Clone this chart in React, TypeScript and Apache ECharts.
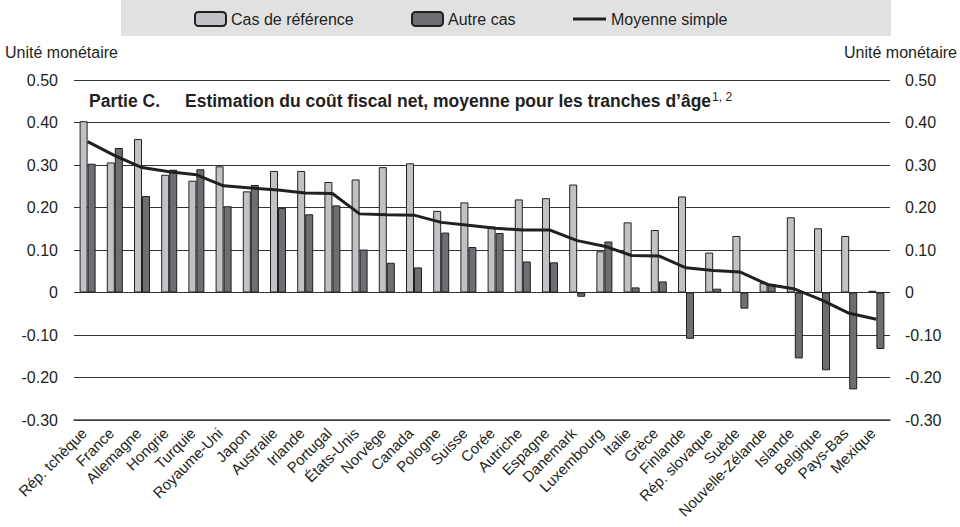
import React, { useEffect, useRef } from "react";
import * as echarts from "echarts";

const categories = [
  "Rép. tchèque", "France", "Allemagne", "Hongrie", "Turquie", "Royaume-Uni", "Japon",
  "Australie", "Irlande", "Portugal", "États-Unis", "Norvège", "Canada", "Pologne",
  "Suisse", "Corée", "Autriche", "Espagne", "Danemark", "Luxembourg", "Italie", "Grèce",
  "Finlande", "Rép. slovaque", "Suède", "Nouvelle-Zélande", "Islande", "Belgique",
  "Pays-Bas", "Mexique",
];

const referenceCase = [
  0.403, 0.306, 0.361, 0.277, 0.263, 0.297, 0.238, 0.286, 0.286, 0.26, 0.266, 0.295,
  0.304, 0.192, 0.212, 0.155, 0.219, 0.222, 0.254, 0.097, 0.165, 0.147, 0.226, 0.094,
  0.133, 0.022, 0.177, 0.151, 0.133, 0.004,
];

const otherCase = [
  0.303, 0.34, 0.227, 0.289, 0.29, 0.203, 0.253, 0.199, 0.184, 0.205, 0.101, 0.07,
  0.059, 0.141, 0.107, 0.14, 0.073, 0.071, -0.01, 0.12, 0.012, 0.026, -0.109, 0.009,
  -0.038, 0.02, -0.155, -0.183, -0.228, -0.133,
];

const simpleAverage = [
  0.355, 0.322, 0.294, 0.284, 0.277, 0.251, 0.246, 0.241, 0.234, 0.233, 0.185, 0.183,
  0.182, 0.165, 0.158, 0.151, 0.147, 0.147, 0.122, 0.109, 0.087, 0.086, 0.058, 0.052,
  0.048, 0.019, 0.008, -0.018, -0.049, -0.063,
];

const seriesNames = ["Cas de référence", "Autre cas", "Moyenne simple"];
const yMin = -0.3;
const yMax = 0.5;
const yStep = 0.1;
const unitLabel = "Unité monétaire";
const titlePart = "Partie C.";
const titleText = "Estimation du coût fiscal net, moyenne pour les tranches d’âge";
const titleNotes = "1, 2";

const FONT = "'Liberation Sans', Arial, Helvetica, sans-serif";
const TEXT = "#231f20";

const fmt = (v: number) => (Math.abs(v) < 1e-9 ? "0" : v.toFixed(2));

export default function App() {
  const ref = useRef<HTMLDivElement>(null);

  useEffect(() => {
    if (!ref.current) return;
    const chart = echarts.init(ref.current, undefined, { renderer: "svg" });
    const legendText = { fontFamily: FONT, fontSize: 16, color: TEXT };
    const axisLabelCommon = {
      fontFamily: FONT,
      fontSize: 16,
      color: TEXT,
      formatter: fmt,
      padding: [0, 0, 7, 0],
    };
    chart.setOption({
      animation: false,
      backgroundColor: "#ffffff",
      textStyle: { fontFamily: FONT },
      grid: { left: 74, right: 70, top: 80, bottom: 107, containLabel: false },
      legend: [
        {
          data: [seriesNames[0]],
          left: 194,
          top: 11,
          padding: 0,
          itemWidth: 31,
          itemHeight: 14,
          textStyle: legendText,
        },
        {
          data: [seriesNames[1]],
          left: 411,
          top: 11,
          padding: 0,
          itemWidth: 31,
          itemHeight: 14,
          textStyle: legendText,
        },
        {
          data: [{ name: seriesNames[2], icon: "rect" }],
          left: 573,
          top: 11,
          padding: 0,
          itemWidth: 33,
          itemHeight: 3,
          textStyle: legendText,
        },
      ],
      graphic: [
        {
          type: "rect",
          z: -10,
          shape: { x: 121, y: 0, width: 770, height: 36 },
          style: { fill: "#e1e1e2" },
          silent: true,
        },
        {
          type: "text",
          x: 5,
          y: 52,
          style: {
            text: unitLabel,
            font: `16px ${FONT}`,
            fill: TEXT,
            textAlign: "left",
            textVerticalAlign: "middle",
          },
        },
        {
          type: "text",
          x: 957,
          y: 52,
          style: {
            text: unitLabel,
            font: `16px ${FONT}`,
            fill: TEXT,
            textAlign: "right",
            textVerticalAlign: "middle",
          },
        },
        {
          type: "text",
          x: 89,
          y: 101,
          style: {
            text: titlePart,
            font: `bold 17.5px ${FONT}`,
            fill: TEXT,
            textAlign: "left",
            textVerticalAlign: "middle",
          },
        },
        {
          type: "text",
          x: 185,
          y: 101,
          style: {
            text: `{t|${titleText}}{s|${titleNotes}}`,
            fill: TEXT,
            textAlign: "left",
            textVerticalAlign: "middle",
            rich: {
              t: { fontFamily: FONT, fontSize: 17.5, fontWeight: "bold", fill: TEXT },
              s: { fontFamily: FONT, fontSize: 12, fill: TEXT, padding: [0, 0, 9, 1] },
            },
          },
        },
      ],
      xAxis: {
        type: "category",
        data: categories,
        boundaryGap: true,
        axisLine: { onZero: false, lineStyle: { color: "#444", width: 1.5 } },
        axisTick: { inside: true, length: 6, lineStyle: { color: "#444" }, alignWithLabel: false },
        axisLabel: {
          interval: 0,
          rotate: 45,
          margin: 7,
          padding: [0, 5, 10, 0],
          fontFamily: FONT,
          fontSize: 15,
          color: TEXT,
        },
        splitLine: { show: false },
      },
      yAxis: [
        {
          type: "value",
          min: yMin,
          max: yMax,
          interval: yStep,
          position: "left",
          axisLine: { show: false },
          axisTick: { show: false },
          axisLabel: { ...axisLabelCommon, margin: 16 },
          splitLine: { lineStyle: { color: "#333", width: 1 } },
        },
        {
          type: "value",
          min: yMin,
          max: yMax,
          interval: yStep,
          position: "right",
          axisLine: { show: false },
          axisTick: { show: false },
          axisLabel: { ...axisLabelCommon, margin: 15 },
          splitLine: { show: false },
        },
      ],
      series: [
        {
          name: seriesNames[0],
          type: "bar",
          data: referenceCase,
          barWidth: 8,
          barGap: "0%",
          itemStyle: { color: "#c1c2c6", borderColor: "#231f20", borderWidth: 1 },
        },
        {
          name: seriesNames[1],
          type: "bar",
          data: otherCase,
          barWidth: 8,
          barGap: "0%",
          itemStyle: { color: "#6d6e71", borderColor: "#231f20", borderWidth: 1 },
        },
        {
          name: seriesNames[2],
          type: "line",
          data: simpleAverage,
          symbol: "none",
          z: 5,
          lineStyle: { color: "#231f20", width: 3 },
          itemStyle: { color: "#231f20" },
        },
      ],
    });
    return () => chart.dispose();
  }, []);

  return (
    <div
      ref={ref}
      style={{ position: "fixed", left: 0, top: 0, width: 960, height: 527 }}
    />
  );
}
